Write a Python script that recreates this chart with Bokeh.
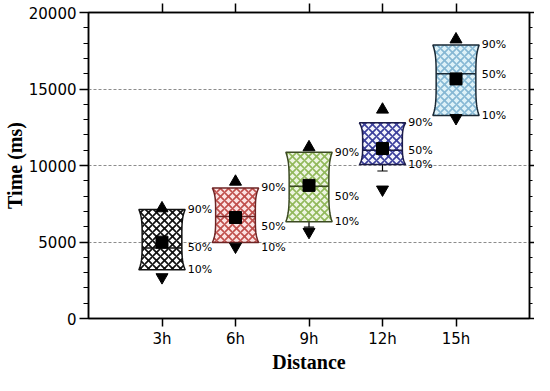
import numpy as np
from bokeh.plotting import figure
from bokeh.models import Range1d, LinearAxis, FixedTicker, ColumnDataSource
from bokeh.embed import file_html
from bokeh.resources import INLINE
from bokeh.core.properties import value

# ---- data ----
categories = ["3h", "6h", "9h", "12h", "15h"]
positions = [1, 2, 3, 4, 5]
y_major = [0, 5000, 10000, 15000, 20000]
y_minor = [1000, 2000, 3000, 4000, 6000, 7000, 8000, 9000,
           11000, 12000, 13000, 14000, 16000, 17000, 18000, 19000]
p10 = [3190, 4970, 6330, 10060, 13270]
p50 = [4610, 6670, 8640, 11000, 15990]
p90 = [7130, 8530, 10860, 12790, 17880]
means = [4990, 6600, 8700, 11110, 15660]
upper_marks = [7200, 8940, 11190, 13650, 18240]
lower_marks = [2700, 4700, 5660, 8430, 13100]
whisker_pos = [3, 4]
whisker_top = [6330, 10060]
whisker_low = [5970, 9640]
label90_y = [7130, 8530, 10860, 12790, 17880]
label50_y = [4610, 6040, 7990, 11000, 15930]
label10_y = [3190, 4610, 6330, 10060, 13270]

fill_colors = ["#ffffff", "#fbe3e3", "#eef5e2", "#f4f5fc", "#def2f8"]
hatch_colors = ["#111111", "#c0504d", "#92b95c", "#3b3f9c", "#86b8d4"]
line_colors = ["#111111", "#6e2424", "#3b4a22", "#1c1c4a", "#1a2a36"]

W_END = 0.315
W_MID = 0.27

p = figure(width=534, height=375, x_range=Range1d(0, 6), y_range=Range1d(0, 20000),
           output_backend="svg", toolbar_location=None,
           min_border_left=88, min_border_right=0, min_border_top=12, min_border_bottom=0)
p.background_fill_color = "white"
p.border_fill_color = "white"
p.outline_line_color = "black"
p.outline_line_width = 1.5

# grid
p.xgrid.visible = False
p.ygrid.ticker = FixedTicker(ticks=[5000, 10000, 15000])
p.ygrid.grid_line_color = "#8c8c8c"
p.ygrid.grid_line_dash = "3 2"
p.ygrid.grid_line_width = 1

# bottom axis
xa = p.xaxis[0]
xa.ticker = FixedTicker(ticks=positions, minor_ticks=[])
xa.major_label_overrides = {pos: c for pos, c in zip(positions, categories)}
xa.major_label_text_font = "DejaVu Sans"
xa.major_label_text_font_size = "15px"
xa.major_label_text_color = "black"
xa.major_tick_out = 8
xa.major_tick_in = 0
xa.major_tick_line_width = 1.5
xa.axis_line_width = 1.5
xa.major_label_standoff = 3
xa.axis_label = "Distance"
xa.axis_label_text_font = "Liberation Serif"
xa.axis_label_text_font_style = "bold"
xa.axis_label_text_font_size = "20px"
xa.axis_label_text_color = "black"
xa.axis_label_standoff = 0

# left axis
ya = p.yaxis[0]
ya.ticker = FixedTicker(ticks=y_major, minor_ticks=y_minor)
ya.major_label_text_font = "DejaVu Sans"
ya.major_label_text_font_size = "15px"
ya.major_label_text_color = "black"
ya.major_tick_out = 9
ya.major_tick_in = 0
ya.minor_tick_out = 5
ya.minor_tick_in = 0
ya.major_tick_line_width = 1.5
ya.minor_tick_line_width = 1.2
ya.axis_line_width = 1.5
ya.major_label_standoff = 3
ya.axis_label = "Time (ms)"
ya.axis_label_text_font = "Liberation Serif"
ya.axis_label_text_font_style = "bold"
ya.axis_label_text_font_size = "20px"
ya.axis_label_text_color = "black"
ya.axis_label_standoff = 0

# top axis (ticks only)
top = LinearAxis(ticker=FixedTicker(ticks=positions, minor_ticks=[]),
                 major_label_overrides={pos: "" for pos in positions},
                 major_label_text_color=None, major_label_standoff=0,
                 major_tick_out=9, major_tick_in=0, major_tick_line_width=1.5,
                 axis_line_width=1.5)
p.add_layout(top, "above")

# right axis (ticks only)
right = LinearAxis(ticker=FixedTicker(ticks=y_major, minor_ticks=y_minor),
                   major_label_overrides={v: "" for v in y_major},
                   major_label_text_color=None, major_label_standoff=0,
                   major_tick_out=5, major_tick_in=0, minor_tick_out=3, minor_tick_in=0,
                   major_tick_line_width=1.5, minor_tick_line_width=1.2,
                   axis_line_width=1.5)
p.add_layout(right, "right")

# whiskers (drawn below boxes)
p.segment(x0=whisker_pos, y0=whisker_top, x1=whisker_pos, y1=whisker_low,
          line_color="black", line_width=1.2)
p.segment(x0=[w - 0.07 for w in whisker_pos], y0=whisker_low,
          x1=[w + 0.07 for w in whisker_pos], y1=whisker_low,
          line_color="black", line_width=1.2)

# hourglass-shaped boxes
t = np.linspace(0, 1, 41)
flare = np.abs(2 * t - 1) ** 4
xs, ys = [], []
for c, lo, hi in zip(positions, p10, p90):
    yy = lo + (hi - lo) * t
    hw = W_MID + (W_END - W_MID) * flare
    xs.append(list(c + hw) + list((c - hw)[::-1]))
    ys.append(list(yy) + list(yy[::-1]))
box_src = ColumnDataSource(dict(xs=xs, ys=ys, fill=fill_colors, hatch=hatch_colors, line=line_colors))
p.patches("xs", "ys", source=box_src, fill_color="fill", hatch_pattern="diagonal_cross",
          hatch_color="hatch", hatch_scale=8, hatch_weight=1.7,
          line_color="line", line_width=1.5)

# medians
med_hw = [W_MID + (W_END - W_MID) * (abs(2 * (m - lo) / (hi - lo) - 1) ** 4)
          for m, lo, hi in zip(p50, p10, p90)]
p.segment(x0=[c - h for c, h in zip(positions, med_hw)], y0=p50,
          x1=[c + h for c, h in zip(positions, med_hw)], y1=p50,
          line_color=line_colors, line_width=1.5)

# markers
p.scatter(positions, means, marker="square", size=12, fill_color="black", line_color="black")
p.scatter(positions, upper_marks, marker="triangle", size=12, fill_color="black", line_color="black")
p.scatter(positions, lower_marks, marker="inverted_triangle", size=12, fill_color="black", line_color="black")

# percentage labels
lx = [c + 0.35 for c in positions]
for ly, txt in ((label90_y, "90%"), (label50_y, "50%"), (label10_y, "10%")):
    p.text(x=lx, y=ly, text=[txt] * len(lx), text_font=value("DejaVu Sans"),
           text_font_size="11px", text_baseline="middle", text_align="left",
           text_color="black")

open("out.html", "w").write(file_html(p, INLINE))
